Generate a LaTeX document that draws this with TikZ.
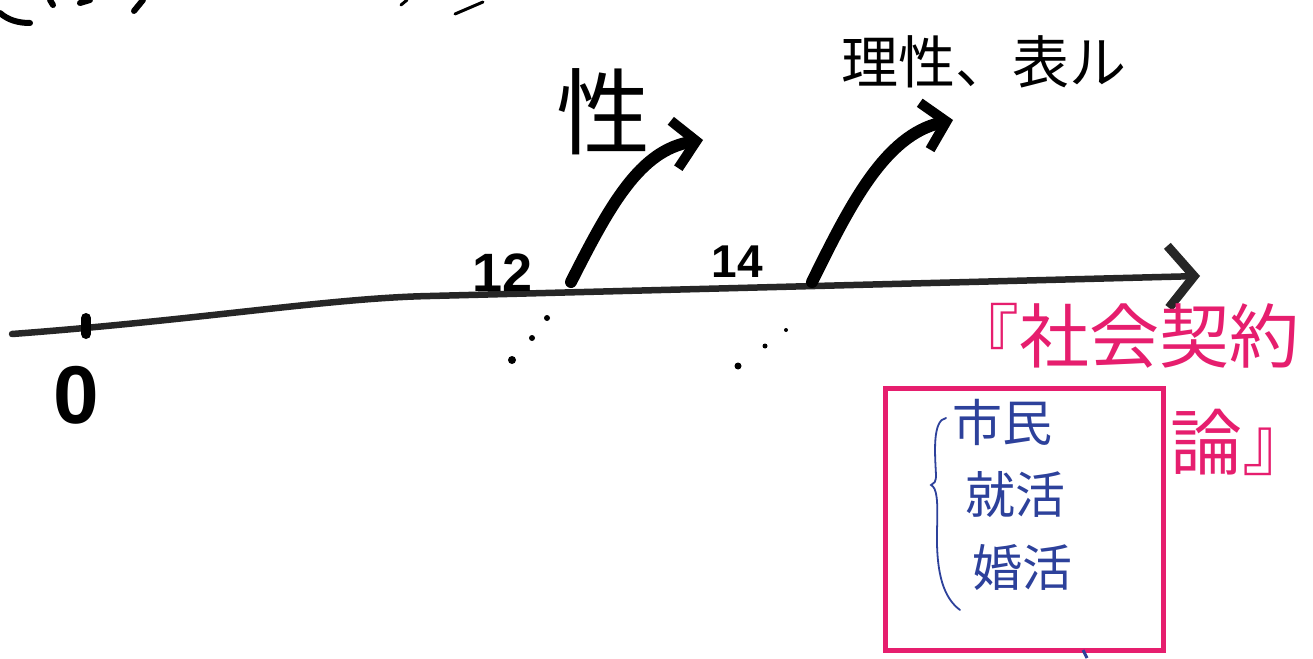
\documentclass[tikz,border=0pt]{standalone}
\usepackage{fontspec}
\newfontfamily\jp{Noto Sans CJK JP}
\newfontfamily\digits{Liberation Sans}
\usetikzlibrary{arrows.meta}
\definecolor{pinkink}{RGB}{230,30,110}
\definecolor{blueink}{RGB}{45,65,155}
\begin{document}
\begin{tikzpicture}[x=1pt,y=-1pt,
  ink/.style={draw=black, line width=12pt, line cap=round},
  timeline/.style={draw=black!85, line width=6.5pt, line cap=round},
  barb/.style={-{Straight Barb[length=22pt,width=48pt,line width=10pt]}},
  inktext/.style={text=black, inner sep=0pt},
  pinktext/.style={text=pinkink, inner sep=0pt},
  bluetext/.style={text=blueink, inner sep=0pt},
  dot/.style={circle, fill=black, inner sep=0pt, minimum size=6pt},
  pinkbox/.style={draw=pinkink, line width=5pt},
  partial/.style={draw=black, line width=6pt, line cap=round}]
\useasboundingbox (0,0) rectangle (1313,658);
\fill[white] (0,0) rectangle (1313,658);

% cut-off strokes at the top edge
\draw[partial] (0,13) .. controls (8,20) and (18,23) .. (30,23);
\draw[partial] (50,0) -- (53,5);
\draw[partial] (80,3) -- (90,0);
\draw[partial] (143,0) -- (134,11);
\draw[partial, line width=3pt] (407,0) -- (401,5);
\draw[partial, line width=3pt] (483,2) -- (455,14);

% timeline
\coordinate (t0) at (12,334);
\coordinate (tm) at (430,296);
\coordinate (tend) at (1200,276);
\draw[timeline, -{Straight Barb[length=26pt,width=62pt,line width=9pt]}]
  (t0) .. controls (200,320) and (330,298) .. (tm) -- (tend);
\coordinate (tick0) at (86,318);
\coordinate (tick1) at (86,334);
\draw[ink, line width=10pt] (tick0) -- (tick1);

% labels on the timeline
\node[inktext, font=\digits\bfseries\fontsize{82}{82}\selectfont] (zero) at (76,395) {0};
\node[inktext, font=\digits\bfseries\fontsize{54}{54}\selectfont] (twelve) at (503,273) {12};
\node[inktext, font=\digits\bfseries\fontsize{46}{46}\selectfont] (fourteen) at (737,262) {14};

% rising arrows
\coordinate (a1s) at (571,282);
\coordinate (a1e) at (703,140);
\draw[ink, barb] (a1s) .. controls (610,205) and (640,150) .. (a1e);
\coordinate (a2s) at (812,282);
\coordinate (a2e) at (953,120);
\draw[ink, barb] (a2s) .. controls (850,205) and (885,135) .. (a2e);

\node[inktext, font=\jp\fontsize{94}{94}\selectfont] (sei) at (603,112) {性};
\node[inktext, font=\jp\fontsize{57}{57}\selectfont] (risei) at (984,62) {理性、表ル};

% dots below
\node[dot] (d1) at (547,318) {};
\node[dot] (d2) at (532,338) {};
\node[dot, minimum size=8pt] (d3) at (512,360) {};
\node[dot, minimum size=4pt] (d4) at (786,330) {};
\node[dot, minimum size=5pt] (d5) at (765,346) {};
\node[dot, minimum size=7pt] (d6) at (738,366) {};

% pink box and title
\node[pinkbox, minimum width=278pt, minimum height=262pt, inner sep=0pt] (box) at (1024,519) {};
\node[pinktext, font=\jp\fontsize{70}{70}\selectfont] (title1) at (1124,336) {『社会契約};
\node[pinktext, font=\jp\fontsize{72}{72}\selectfont] (title2) at (1242,442) {論』};

% blue contents
\coordinate (b0) at (946,418);
\coordinate (bmid) at (931,485);
\coordinate (b1) at (960,610);
\draw[blueink, line width=1.8pt, line cap=round]
  (b0) .. controls (932,420) and (935,455) .. (936,475)
  .. controls (936,482) and (934,484) .. (bmid)
  .. controls (937,488) and (938,500) .. (937,530)
  .. controls (936,575) and (944,598) .. (b1);
\node[bluetext, font=\jp\fontsize{50}{50}\selectfont] (shimin) at (1002,422) {市民};
\node[bluetext, font=\jp\fontsize{50}{50}\selectfont] (shukatsu) at (1015,495) {就活};
\node[bluetext, font=\jp\fontsize{50}{50}\selectfont] (konkatsu) at (1022,567) {婚活};
\coordinate (bm0) at (1083,650);
\coordinate (bm1) at (1087,658);
\draw[blueink, line width=3pt] (bm0) -- (bm1);
\end{tikzpicture}
\end{document}
